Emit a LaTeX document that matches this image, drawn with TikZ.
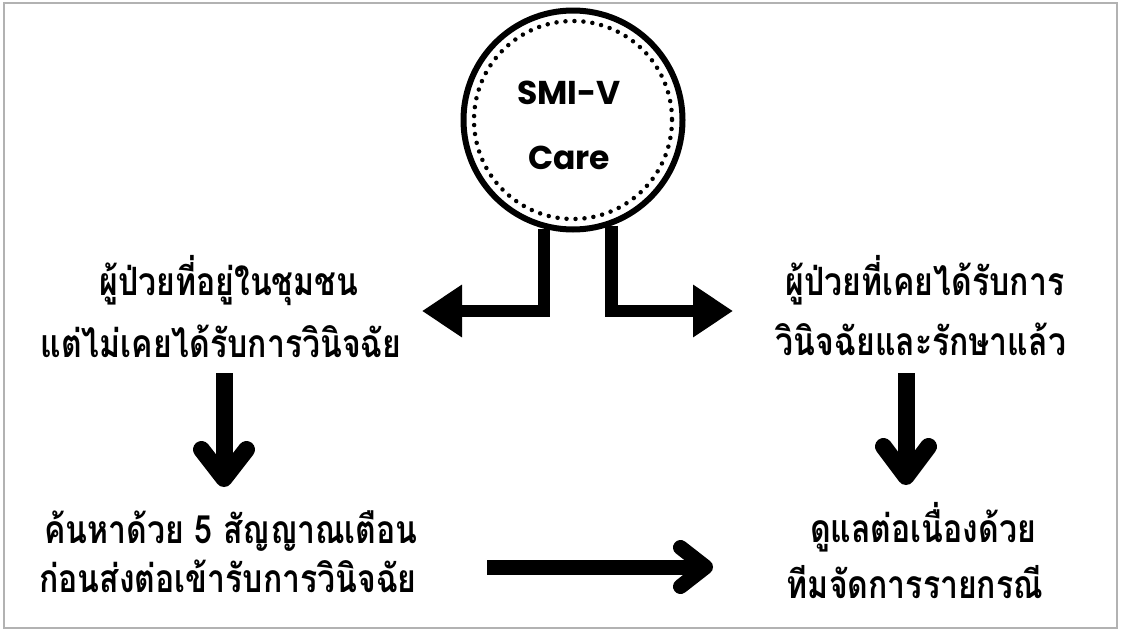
\documentclass[tikz,border=0pt]{standalone}
\usepackage{fontspec}
\newfontfamily\thaifont[Script=Thai,FakeStretch=0.82]{Loma}
\newfontfamily\popfont{Poppins}
\usetikzlibrary{arrows.meta,calc}
\begin{document}
\begin{tikzpicture}[x=1pt,y=-1pt,
  thai/.style={font=\thaifont\bfseries\fontsize{39}{44}\selectfont, inner sep=0pt, anchor=base},
  conn/.style={line width=12.5pt, -{Triangle[length=40pt,width=50pt]}},
  shaftline/.style={line width=#1, line cap=butt},
  vhead/.style={line width=#1, line cap=round, line join=round}]
\useasboundingbox (0,0) rectangle (1122,632);
\draw[gray!60, line width=1.5pt] (4,3) rectangle (1117,628);

% central circle
\node[circle, draw, line width=6pt, minimum size=219pt, inner sep=0pt] (c) at (573,120) {};
\draw[line width=4.5pt, dash pattern=on 0pt off 9pt, line cap=round] (c.center) circle[radius=99];
\node[font=\popfont\bfseries\fontsize{33}{65}\selectfont, align=center, inner sep=0pt] (clab) at (569,125) {SMI-V\\Care};

% texts
\node[thai] (t1a) at (229,295) {ผู้ป่วยที่อยู่ในชุมชน};
\node[thai] (t1b) at (221,357) {แต่ไม่เคยได้รับการวินิจฉัย};
\node[thai] (t2a) at (925,295) {ผู้ป่วยที่เคยได้รับการ};
\node[thai] (t2b) at (921,355) {วินิจฉัยและรักษาแล้ว};
\node[thai] (t3a) at (231,543) {ค้นหาด้วย 5 สัญญาณเตือน};
\node[thai] (t3b) at (228,592) {ก่อนส่งต่อเข้ารับการวินิจฉัย};
\node[thai] (t4a) at (923,542) {ดูแลต่อเนื่องด้วย};
\node[thai] (t4b) at (915,598) {ทีมจัดการรายกรณี};

% connectors from circle
\coordinate (lt) at (422,311);
\coordinate (rt) at (733,311);
\draw[conn] (c.-105) |- (lt);
\draw[conn] (c.-70) |- (rt);

% left down arrow
\coordinate (d1s) at (224,373);
\coordinate (d1e) at (224,478.5);
\draw[shaftline=17pt] (d1s) -- (d1e);
\draw[vhead=17pt] ($(d1e)+(-22.5,-29)$) -- (d1e) -- ($(d1e)+(22.5,-29)$);

% right down arrow
\coordinate (d2s) at (906,373);
\coordinate (d2e) at (906,476.5);
\draw[shaftline=17pt] (d2s) -- (d2e);
\draw[vhead=17pt] ($(d2e)+(-22.5,-30)$) -- (d2e) -- ($(d2e)+(22.5,-30)$);

% bottom horizontal arrow
\coordinate (hs) at (487,567);
\coordinate (he) at (705.5,567);
\draw[shaftline=15pt] (hs) -- (he);
\draw[vhead=15pt] ($(he)+(-25,-19.5)$) -- (he) -- ($(he)+(-25,19.5)$);
\end{tikzpicture}
\end{document}
